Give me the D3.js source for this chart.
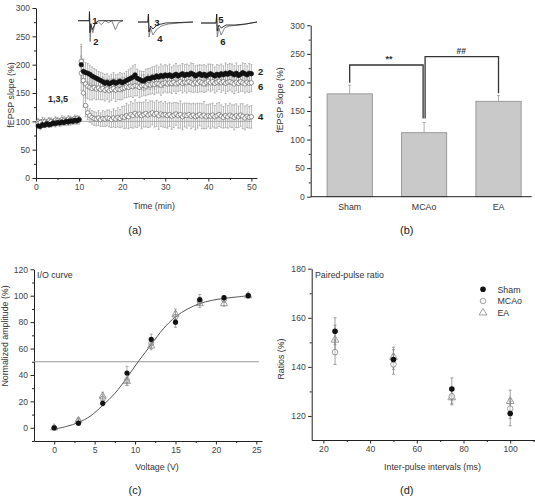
<!DOCTYPE html>
<html><head><meta charset="utf-8">
<script src="https://cdn.jsdelivr.net/npm/d3@7"></script>
<style>
html,body{margin:0;padding:0;background:#fff;}
svg{display:block;}
text{font-family:"Liberation Sans",Arial,sans-serif;}
</style></head>
<body>
<script>
// ---------------- DATA ----------------
// Panel (a): fEPSP slope time course (sampled every 0.5 min)
const timesA = d3.range(0.5, 50.01, 0.5);
const shamA = [92,91,94,93,96,94,95,97,96,98,97,99,98,100,99,101,100,102,101,103,
  200,188,186,185,183,180,178,176,174,172,170,167,169,166,168,170,167,169,171,168,
  170,172,174,176,178,182,176,174,172,171,
  174,176,175,178,177,180,178,181,179,182,
  180,182,179,181,183,180,182,184,181,183,
  182,185,183,180,182,184,181,183,180,182,
  184,182,180,183,181,184,182,185,183,186,
  184,182,185,181,183,186,184,182,185,184];
const shamErrA = [5,6,5,4,6,5,5,6,4,5,6,5,5,4,6,5,5,6,5,5,
  32,22,18,17,16,16,15,15,14,14,15,16,15,14,15,16,15,14,15,16,
  15,16,17,18,20,18,16,15,16,17,
  18,17,19,18,20,19,18,20,19,18,
  18,19,17,18,19,18,17,18,19,18,
  17,18,19,18,17,16,18,17,18,19,
  17,18,16,17,18,17,16,18,17,16,
  17,16,18,17,16,17,18,16,17,16];
const eaA = [96,98,95,99,97,96,100,98,97,101,99,98,102,100,99,103,101,100,104,102,
  206,172,166,162,160,158,160,157,159,156,158,155,157,154,156,158,155,157,156,158,
  159,161,160,162,161,163,162,160,163,164,
  162,165,164,166,165,167,166,164,167,168,
  166,168,167,169,166,168,170,167,169,168,
  170,168,166,169,167,170,168,166,169,171,
  168,170,167,169,171,168,170,167,169,170,
  168,166,169,167,170,168,166,169,167,168];
const eaErrA = [6,5,6,7,5,6,6,5,7,6,5,6,6,7,5,6,6,5,6,7,
  30,25,24,22,22,20,20,19,20,18,20,19,18,20,19,18,20,19,18,20,
  18,19,17,18,19,18,17,18,19,18,
  17,18,16,17,18,17,16,18,17,16,
  16,17,18,16,17,15,16,17,16,18,
  17,16,15,17,16,18,16,15,17,16,
  16,15,17,16,15,17,16,18,16,15,
  16,17,15,16,17,15,16,17,16,15];
const mcaoA = [99,97,100,96,98,101,97,99,102,98,100,103,99,101,104,100,102,105,101,104,
  185,150,128,115,110,107,105,104,106,103,105,104,106,105,103,106,104,107,105,108,
  107,110,108,112,110,114,111,113,110,112,
  114,111,113,115,112,114,110,113,111,112,
  110,112,109,111,113,110,112,108,111,110,
  112,109,111,108,110,112,109,111,108,110,
  109,111,108,110,112,109,107,110,108,111,
  109,107,110,108,111,109,106,109,107,108];
const mcaoErrA = [6,5,7,6,5,6,7,5,6,6,5,7,6,5,6,7,5,6,6,5,
  30,25,20,12,12,12,12,12,13,12,14,13,14,15,14,16,15,17,16,18,
  20,22,21,23,22,24,22,21,23,22,
  24,22,23,21,22,23,24,22,21,23,
  22,21,23,22,20,22,24,23,21,22,
  20,22,21,23,22,20,22,24,21,20,
  22,21,20,22,21,20,19,21,20,21,
  20,22,21,19,20,22,21,20,19,20];
const ticksA_x = [0,10,20,30,40,50];
const ticksA_y = [0,50,100,150,200,250,300];
// inset waveforms (relative time 0..1, relative amplitude)
const trace1 = [[0,0],[0.25,0],[0.255,9],[0.265,-12],[0.285,-3],[0.32,-9],[0.38,-3],[0.45,0],[1,0]];
const trace2 = [[0,0],[0.25,0],[0.255,9],[0.27,-21],[0.29,-5],[0.33,-12],[0.38,-2],[0.45,-1],[0.52,-4],[0.6,0],[0.68,-2],[0.75,0],[0.83,-9],[0.9,-2],[1,0]];
const trace3 = [[0,0],[0.18,0],[0.19,8],[0.2,-10],[0.23,-4],[0.27,-7],[0.35,-3],[0.5,-1],[1,0]];
const trace4 = [[0,0],[0.18,0],[0.19,8],[0.2,-15],[0.23,-6],[0.27,-13],[0.33,-8],[0.42,-4],[0.55,-2],[0.75,-1],[1,0]];
const trace5 = [[0,0],[0.27,0],[0.28,9],[0.29,-8],[0.32,-2],[0.36,-5],[0.45,-2],[0.6,-2],[0.8,-1],[1,1]];
const trace6 = [[0,0],[0.27,0],[0.28,9],[0.29,-14],[0.32,-5],[0.36,-12],[0.42,-5],[0.5,-3],[0.7,-2],[1,1]];

// Panel (b): mean fEPSP slope
const groupsB = ["Sham","MCAo","EA"];
const meanB = [180,112,167];
const errB = [15,18,10];
const ticksB_y = [0,50,100,150,200,250,300];

// Panel (c): I/O curve
const voltages = [0,3,6,9,12,15,18,21,24];
const shamIO = [0,3.5,18.5,41.5,67,80,97,98.5,100];
const shamIOErr = [0,1.5,2,5,4,4,4,1.5,0];
const mcaoIO = [0,5,22,36,64,84,96,97,100];
const mcaoIOErr = [0,2,3,4,4,4,3,2,0];
const eaIO = [0,5.5,24,35,62,86,94,94,100];
const eaIOErr = [0,2,3,3,3,4,3,2,0];
const fitX = [0,1.5,3,4.5,6,7.5,9,10.5,12,13.5,15,16.5,18,19.5,21,22.5,24];
const fitY = [-1,1,4,9,17,26,38,51,63,75,84,90,94,96.5,98,99,100];
const ticksC_x = [0,5,10,15,20,25];
const ticksC_y = [0,20,40,60,80,100,120];

// Panel (d): paired-pulse ratio
const intervals = [25,50,75,100];
const shamPP = [154.5,143,131,121];
const shamPPErr = [5.5,4,4.5,5];
const mcaoPP = [146,141,128,123];
const mcaoPPErr = [5,4,3,4];
const eaPP = [151,144,127.5,126];
const eaPPErr = [6,4,3,4.5];
const ticksD_x = [20,40,60,80,100];
const ticksD_y = [120,140,160,180];

// ---------------- DRAW ----------------
const W = 535, H = 497;
const svg = d3.select("body").append("svg").attr("width", W).attr("height", H);
svg.append("rect").attr("width", W).attr("height", H).attr("fill", "#fff");

const AX = "#222", TL = "#444", ERR = "#9a9a9a";

function axis(g, gen, major, minor, transform) {
  const a = g.append("g").attr("transform", transform)
    .call(gen.tickValues(major).tickSize(3.5).tickPadding(2.5).tickSizeOuter(0));
  a.select(".domain").attr("stroke", AX);
  a.selectAll(".tick line").attr("stroke", AX);
  a.selectAll(".tick text").attr("fill", TL).attr("font-size", 8.6)
    .attr("font-family", '"Liberation Sans",Arial,sans-serif');
  if (minor) {
    const m = g.append("g").attr("transform", transform)
      .call(gen.tickValues(minor).tickSize(2).tickFormat("").tickSizeOuter(0));
    m.select(".domain").remove();
    m.selectAll(".tick line").attr("stroke", AX);
  }
  return a;
}
function label(x, y, s, o = {}) {
  const t = svg.append("text").attr("x", x).attr("y", y).text(s)
    .attr("font-size", o.size || 9).attr("fill", o.fill || "#333")
    .attr("text-anchor", o.anchor || "middle");
  if (o.rot) t.attr("transform", `rotate(${o.rot},${x},${y})`);
  if (o.bold) t.attr("font-weight", "bold");
  if (o.family) t.attr("font-family", o.family);
  return t;
}
const serif = '"DejaVu Serif","Liberation Serif",serif';

// ======== Panel (a) ========
{
  const x = d3.scaleLinear().domain([0, 51.3]).range([36, 257]);
  const y = d3.scaleLinear().domain([0, 300]).range([178, 8]);
  const g = svg.append("g");
  axis(g, d3.axisLeft(y), ticksA_y, d3.range(25, 300, 50), "translate(36,0)");
  axis(g, d3.axisBottom(x), ticksA_x, d3.range(5, 51, 10), "translate(0,178)");
  // 100% reference line
  g.append("line").attr("x1", x(0)).attr("x2", x(50)).attr("y1", y(100)).attr("y2", y(100))
    .attr("stroke", "#aaa").attr("stroke-width", 1);

  const series = [
    {v: mcaoA, e: mcaoErrA, fill: "#fff"},
    {v: eaA, e: eaErrA, fill: "#fff"},
    {v: shamA, e: shamErrA, fill: "#111"}
  ];
  series.forEach(s => {
    const eg = g.append("g").attr("stroke", ERR).attr("stroke-width", 0.7);
    s.v.forEach((v, i) => {
      const e = s.e[i] || 0, cx = x(timesA[i]);
      eg.append("line").attr("x1", cx).attr("x2", cx).attr("y1", y(v - e)).attr("y2", y(v + e));
      eg.append("line").attr("x1", cx - 1).attr("x2", cx + 1).attr("y1", y(v + e)).attr("y2", y(v + e));
      eg.append("line").attr("x1", cx - 1).attr("x2", cx + 1).attr("y1", y(v - e)).attr("y2", y(v - e));
    });
  });
  series.forEach(s => {
    g.append("g").selectAll("circle").data(s.v).join("circle")
      .attr("cx", (d, i) => x(timesA[i])).attr("cy", d => y(d)).attr("r", 2.2)
      .attr("fill", s.fill).attr("stroke", s.fill === "#fff" ? "#666" : "#111").attr("stroke-width", 0.7);
  });

  // insets
  const insets = [
    {x0: 78, x1: 123, yb: 20.7, tr: [trace2, trace1]},
    {x0: 138, x1: 193, yb: 22, tr: [trace4, trace3]},
    {x0: 201, x1: 257, yb: 23, tr: [trace6, trace5]}
  ];
  insets.forEach(ins => {
    const ix = d3.scaleLinear().domain([0, 1]).range([ins.x0, ins.x1]);
    const iy = d3.scaleLinear().domain([0, 10]).range([ins.yb, ins.yb - 10]);
    const ln = d3.line().x(d => ix(d[0])).y(d => iy(d[1]));
    g.append("path").attr("d", ln(ins.tr[0])).attr("fill", "none").attr("stroke", "#777").attr("stroke-width", 0.9);
    g.append("path").attr("d", ln(ins.tr[1])).attr("fill", "none").attr("stroke", "#222").attr("stroke-width", 0.9);
  });
  [["1",95,24],["2",96,45],["3",157,26],["4",160,42],["5",221,23],["6",223,45]].forEach(d =>
    label(d[1], d[2], d[0], {bold: true, size: 9.5, fill: "#222"}));
  label(58, 102, "1,3,5", {bold: true, size: 9, fill: "#222"});
  label(258, 75, "2", {bold: true, size: 9.5, fill: "#222", anchor: "start"});
  label(258, 90, "6", {bold: true, size: 9.5, fill: "#222", anchor: "start"});
  label(258, 120, "4", {bold: true, size: 9.5, fill: "#222", anchor: "start"});

  label(154, 209, "Time (min)", {size: 8.8});
  label(14, 95, "fEPSP slope (%)", {size: 8.8, rot: -90});
  label(135, 234, "(a)", {family: serif, size: 11, fill: "#222"});
}

// ======== Panel (b) ========
{
  const y = d3.scaleLinear().domain([0, 300]).range([196.7, 25.3]);
  const xb = d3.scaleBand().domain(groupsB).range([313, 535.2]).paddingInner(0.392).paddingOuter(0.189);
  const g = svg.append("g");
  g.selectAll("rect.bar").data(meanB).join("rect")
    .attr("x", (d, i) => xb(groupsB[i])).attr("width", xb.bandwidth())
    .attr("y", d => y(d)).attr("height", d => y(0) - y(d))
    .attr("fill", "#c9c9c9").attr("stroke", "#8a8a8a").attr("stroke-width", 0.8);
  meanB.forEach((d, i) => {
    const cx = xb(groupsB[i]) + xb.bandwidth() / 2;
    g.append("line").attr("x1", cx).attr("x2", cx).attr("y1", y(d)).attr("y2", y(d + errB[i]))
      .attr("stroke", ERR).attr("stroke-width", 0.8);
    g.append("line").attr("x1", cx - 1.5).attr("x2", cx + 1.5).attr("y1", y(d + errB[i])).attr("y2", y(d + errB[i]))
      .attr("stroke", ERR).attr("stroke-width", 0.8);
  });
  axis(g, d3.axisLeft(y), ticksB_y, d3.range(25, 300, 50), "translate(310.7,0)");
  g.append("line").attr("x1", 310.7).attr("x2", 531.7).attr("y1", y(0)).attr("y2", y(0)).attr("stroke", AX);
  groupsB.forEach(c => label(xb(c) + xb.bandwidth() / 2, 210, c, {size: 8.8}));

  // significance brackets
  const c0 = xb("Sham") + xb.bandwidth() / 2, c1 = xb("MCAo") + xb.bandwidth() / 2, c2 = xb("EA") + xb.bandwidth() / 2;
  const br = d3.line();
  g.append("path").attr("d", br([[c0, y(199.5)], [c0, y(230.5)], [c1 - 1, y(230.5)], [c1 - 1, y(137)]]))
    .attr("fill", "none").attr("stroke", "#333").attr("stroke-width", 1.3);
  g.append("path").attr("d", br([[c1 + 1, y(137)], [c1 + 1, y(245)], [c2, y(245)], [c2, y(181)]]))
    .attr("fill", "none").attr("stroke", "#333").attr("stroke-width", 1.3);
  label((c0 + c1) / 2 + 2, 62, "**", {bold: true, size: 9, fill: "#333"});
  label((c1 + c2) / 2, 54, "##", {bold: true, size: 8.5, fill: "#333"});

  label(283, 100, "fEPSP slope (%)", {size: 8.8, rot: -90});
  label(406.7, 234, "(b)", {family: serif, size: 11, fill: "#222"});
}

// ======== Panel (c) ========
{
  const x = d3.scaleLinear().domain([-2.5, 25.7]).range([34, 262]);
  const y = d3.scaleLinear().domain([-10, 120]).range([441, 269.3]);
  const g = svg.append("g");
  axis(g, d3.axisLeft(y), ticksC_y, d3.range(-10, 121, 20), "translate(34,0)");
  axis(g, d3.axisBottom(x), ticksC_x, d3.range(2.5, 25, 5), "translate(0,441)");
  g.append("line").attr("x1", 34).attr("x2", 259).attr("y1", y(50)).attr("y2", y(50))
    .attr("stroke", "#999").attr("stroke-width", 1);
  const fit = fitX.map((v, i) => [v, fitY[i]]);
  g.append("path").attr("d", d3.line().x(d => x(d[0])).y(d => y(d[1])).curve(d3.curveCatmullRom)(fit))
    .attr("fill", "none").attr("stroke", "#555").attr("stroke-width", 1);

  const sets = [
    {v: eaIO, e: eaIOErr, type: "tri"},
    {v: mcaoIO, e: mcaoIOErr, type: "open"},
    {v: shamIO, e: shamIOErr, type: "fill"}
  ];
  sets.forEach(s => {
    s.v.forEach((v, i) => {
      const cx = x(voltages[i]), e = s.e[i];
      if (e > 0) {
        g.append("line").attr("x1", cx).attr("x2", cx).attr("y1", y(v - e)).attr("y2", y(v + e)).attr("stroke", ERR).attr("stroke-width", 0.8);
        [v - e, v + e].forEach(t => g.append("line").attr("x1", cx - 1.5).attr("x2", cx + 1.5).attr("y1", y(t)).attr("y2", y(t)).attr("stroke", ERR).attr("stroke-width", 0.8));
      }
    });
  });
  sets.forEach(s => {
    s.v.forEach((v, i) => {
      const cx = x(voltages[i]), cy = y(v);
      if (s.type === "fill") g.append("circle").attr("cx", cx).attr("cy", cy).attr("r", 2.6).attr("fill", "#111");
      else if (s.type === "open") g.append("circle").attr("cx", cx).attr("cy", cy).attr("r", 2.6).attr("fill", "none").attr("stroke", "#888").attr("stroke-width", 0.8);
      else g.append("path").attr("d", d3.symbol(d3.symbolTriangle, 22)()).attr("transform", `translate(${cx},${cy})`).attr("fill", "none").attr("stroke", "#888").attr("stroke-width", 0.8);
    });
  });
  label(37, 278, "I/O curve", {size: 8.8, anchor: "start"});
  label(157, 469.5, "Voltage (V)", {size: 8.8});
  label(8, 336, "Normalized amplitude (%)", {size: 8.8, rot: -90});
  label(135, 494, "(c)", {family: serif, size: 11, fill: "#222"});
}

// ======== Panel (d) ========
{
  const x = d3.scaleLinear().domain([15, 110.4]).range([311.7, 534.5]);
  const y = d3.scaleLinear().domain([110.2, 180]).range([440, 268.7]);
  const g = svg.append("g");
  axis(g, d3.axisLeft(y), ticksD_y, [130, 150, 170], "translate(311.7,0)");
  axis(g, d3.axisBottom(x), ticksD_x, [30, 50, 70, 90, 110], "translate(0,440)");
  const sets = [
    {v: eaPP, e: eaPPErr, type: "tri"},
    {v: mcaoPP, e: mcaoPPErr, type: "open"},
    {v: shamPP, e: shamPPErr, type: "fill"}
  ];
  sets.forEach(s => {
    s.v.forEach((v, i) => {
      const cx = x(intervals[i]), e = s.e[i];
      g.append("line").attr("x1", cx).attr("x2", cx).attr("y1", y(v - e)).attr("y2", y(v + e)).attr("stroke", "#888").attr("stroke-width", 0.8);
      [v - e, v + e].forEach(t => g.append("line").attr("x1", cx - 1.5).attr("x2", cx + 1.5).attr("y1", y(t)).attr("y2", y(t)).attr("stroke", "#888").attr("stroke-width", 0.8));
    });
  });
  function mark(type, cx, cy) {
    if (type === "fill") g.append("circle").attr("cx", cx).attr("cy", cy).attr("r", 2.8).attr("fill", "#111");
    else if (type === "open") g.append("circle").attr("cx", cx).attr("cy", cy).attr("r", 2.8).attr("fill", "#fff").attr("fill-opacity", 0.6).attr("stroke", "#888").attr("stroke-width", 0.8);
    else g.append("path").attr("d", d3.symbol(d3.symbolTriangle, 26)()).attr("transform", `translate(${cx},${cy})`).attr("fill", "none").attr("stroke", "#888").attr("stroke-width", 0.8);
  }
  sets.forEach(s => s.v.forEach((v, i) => mark(s.type, x(intervals[i]), y(v))));
  const legend = [["Sham", "fill"], ["MCAo", "open"], ["EA", "tri"]];
  legend.forEach((d, i) => {
    mark(d[1], 483, 289.3 + i * 11.7);
    label(497.5, 292.5 + i * 11.7, d[0], {size: 8.8, anchor: "start"});
  });
  label(315, 278, "Paired-pulse ratio", {size: 8.8, anchor: "start"});
  label(432.5, 469.5, "Inter-pulse intervals (ms)", {size: 8.8});
  label(284, 359, "Ratios (%)", {size: 8.8, rot: -90});
  label(406.7, 494, "(d)", {family: serif, size: 11, fill: "#222"});
}
</script>
</body></html>
